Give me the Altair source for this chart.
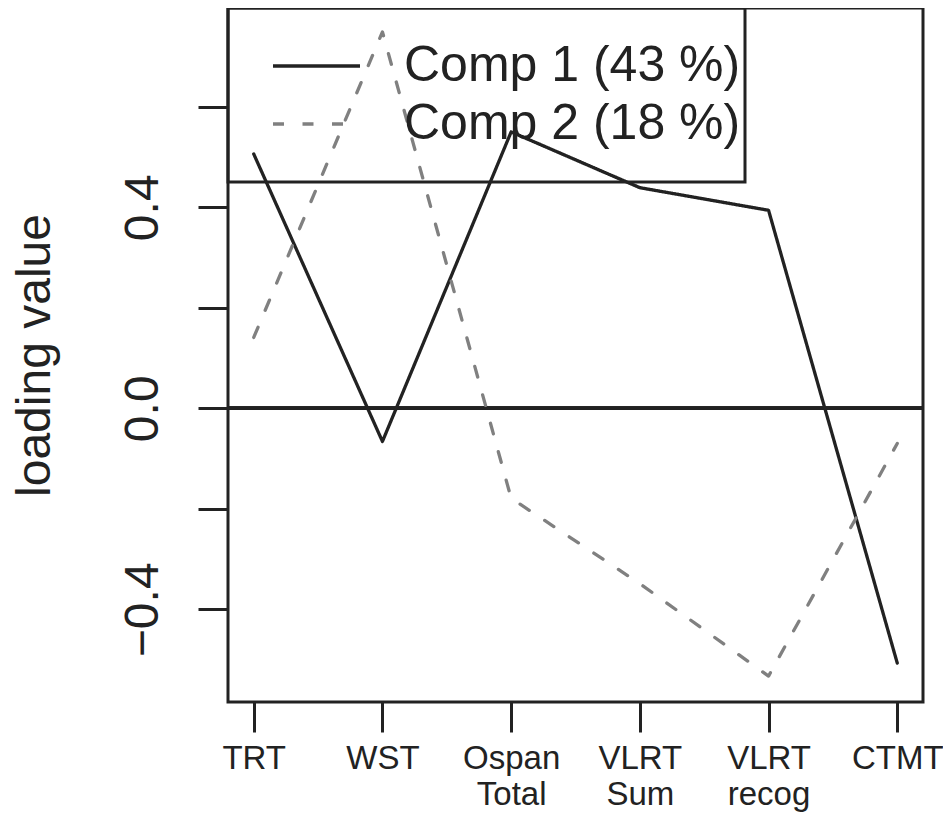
import altair as alt
import pandas as pd

# ---- data ----
categories = ["TRT", "WST", "Ospan Total", "VLRT Sum", "VLRT recog", "CTMT"]
comp1 = [0.506, -0.066, 0.550, 0.439, 0.394, -0.507]
comp2 = [0.141, 0.749, -0.179, -0.349, -0.533, -0.070]
series_names = ["Comp 1 (43 %)", "Comp 2 (18 %)"]
y_ticks = [-0.4, -0.2, 0.0, 0.2, 0.4, 0.6]

rows = []
for name, vals in zip(series_names, [comp1, comp2]):
    for i, (c, v) in enumerate(zip(categories, vals)):
        rows.append({"test": c, "loading": v, "series": name, "order": i})
df = pd.DataFrame(rows)

DARK = "#222222"
GREY = "#808080"
FONT = "Liberation Sans"
W, H = 695, 694

x_enc = alt.X(
    "test:N",
    sort=categories,
    scale=alt.Scale(type="point", padding=0.2, domain=categories),
    axis=alt.Axis(
        title=None,
        labelExpr="split(datum.value, ' ')",
        labelFontSize=33,
        labelLineHeight=36,
        labelPadding=10,
        labelBaseline="top",
        labelAlign="center",
        labelAngle=0,
        labelOverlap=False,
    ),
)
y_enc = alt.Y(
    "loading:Q",
    scale=alt.Scale(domain=[-0.5845, 0.7966], nice=False, zero=False),
    axis=alt.Axis(
        values=y_ticks,
        format=".1f",
        labelExpr="(abs(datum.value) > 0.1 && abs(datum.value) < 0.3) || datum.value > 0.5 ? '' : datum.label",
        labelFontSize=48,
        labelAngle=270,
        labelAlign="center",
        labelBaseline="alphabetic",
        labelPadding=41,
        labelOverlap=False,
        title="loading value",
        titleFontSize=48,
        titleFontWeight="normal",
        titleAngle=270,
        titleAlign="center",
        titleBaseline="alphabetic",
        titleX=-179,
        titleY=347,
    ),
)

legend_opts = dict(
    title=None,
    orient="none",
    legendX=43,
    legendY=32,
    padding=0,
    symbolType="stroke",
    symbolSize=7569,
    symbolStrokeWidth=3.3,
    labelFontSize=50,
    labelColor=DARK,
    labelFont=FONT,
    labelOffset=42,
    clipHeight=52,
    rowPadding=6,
    labelLimit=0,
)

lines = alt.Chart(df).mark_line(strokeWidth=3.3, strokeCap="round", strokeJoin="round").encode(
    x=x_enc,
    y=y_enc,
    order="order:Q",
    color=alt.Color(
        "series:N",
        scale=alt.Scale(domain=series_names, range=[DARK, GREY]),
        legend=alt.Legend(**legend_opts),
    ),
    strokeDash=alt.StrokeDash(
        "series:N",
        scale=alt.Scale(domain=series_names, range=[[1, 0], [11, 18.5]]),
        legend=alt.Legend(**legend_opts),
    ),
)

zero_line = alt.Chart(df).mark_rule(color=DARK, strokeWidth=3).encode(y=alt.datum(0))

legend_frame = alt.Chart(alt.Data(values=[{"a": 1}])).mark_rect(
    fill=None, fillOpacity=0, stroke=DARK, strokeWidth=3
).encode(
    x=alt.value(0), x2=alt.value(517), y=alt.value(0), y2=alt.value(174)
)

chart = alt.layer(zero_line, lines, legend_frame).properties(
    width=W,
    height=H,
    autosize=alt.AutoSizeParams(type="none"),
    padding={"left": 220, "top": 0, "right": 20, "bottom": 111},
).configure_view(
    stroke=DARK, strokeWidth=3
).configure_axis(
    grid=False,
    domain=False,
    tickColor=DARK,
    tickWidth=3,
    tickSize=30,
    labelColor=DARK,
    titleColor=DARK,
    labelFont=FONT,
    titleFont=FONT,
).configure_legend(
    labelFont=FONT,
)

chart.save("out.html", embed_options={"renderer": "svg", "actions": False})
